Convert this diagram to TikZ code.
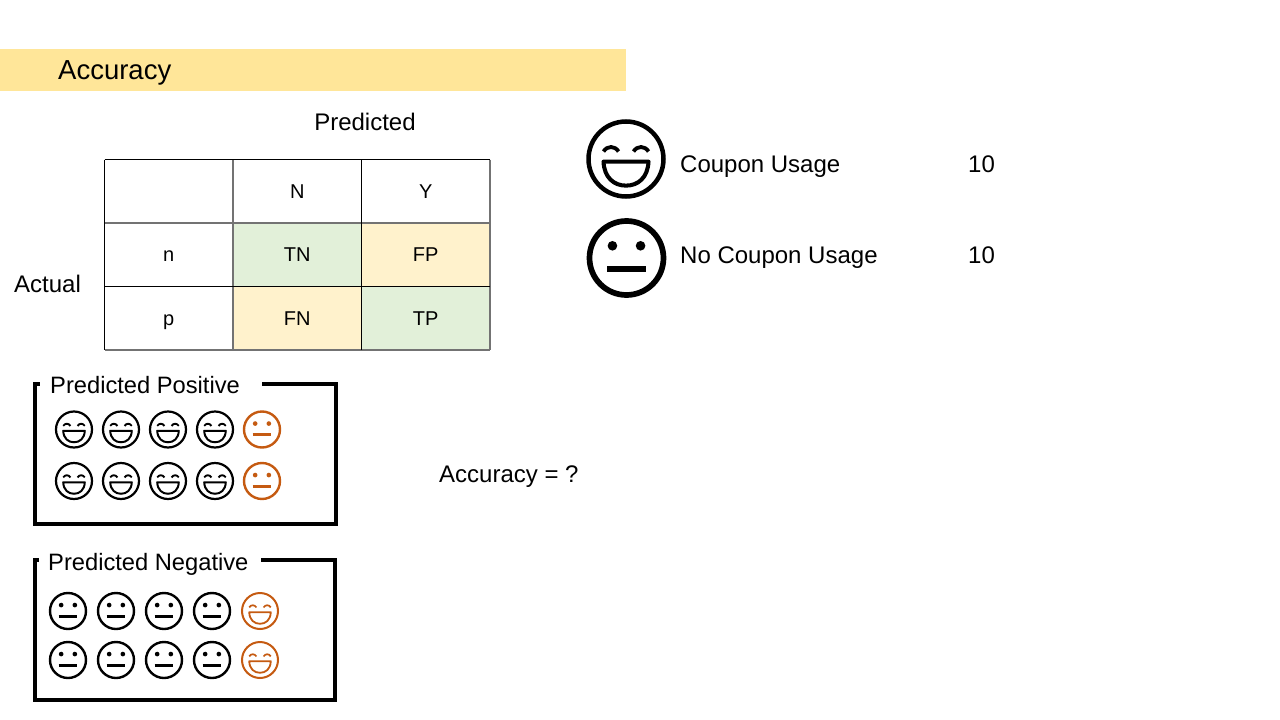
\documentclass[tikz,border=0pt]{standalone}
\usepackage{fontspec}
\setmainfont{Liberation Sans}
\definecolor{bandcol}{HTML}{FFE699}
\definecolor{goodcol}{HTML}{E2F0D9}
\definecolor{badcol}{HTML}{FFF2CC}
\definecolor{wrongcol}{HTML}{C55A11}
\tikzset{
    label24/.style={inner sep=0pt, text height=17pt, text depth=0pt, font=\fontsize{24}{28}\selectfont},
    cell/.style={inner sep=0pt, outer sep=0pt, text height=14.3pt, text depth=0pt,
        minimum width=128.5pt, minimum height=63.5pt, font=\fontsize{20}{24}\selectfont},
    thinrule/.style={draw=black, line width=1pt},
    widerule/.style={draw=black!55, line width=2pt},
    groupbox/.style={draw, line width=4pt},
    pics/happy/.style args={#1/#2/#3}{code={
        \draw[#3, line width=#2pt] (0,0) circle [radius=#1pt];
        \draw[#3, line width=0.9*#2pt, line join=round]
            (-0.6*#1,0.07*#1) -- (0.6*#1,0.07*#1)
            .. controls (0.58*#1,0.5*#1) and (0.32*#1,0.71*#1) .. (0,0.71*#1)
            .. controls (-0.32*#1,0.71*#1) and (-0.58*#1,0.5*#1) .. cycle;
        \draw[#3, line width=0.85*#2pt] (-0.6*#1,-0.2*#1)
            .. controls (-0.5*#1,-0.36*#1) and (-0.3*#1,-0.36*#1) .. (-0.2*#1,-0.2*#1);
        \draw[#3, line width=0.85*#2pt] (0.6*#1,-0.2*#1)
            .. controls (0.5*#1,-0.36*#1) and (0.3*#1,-0.36*#1) .. (0.2*#1,-0.2*#1);
    }},
    pics/neutral/.style args={#1/#2/#3}{code={
        \draw[#3, line width=#2pt] (0,0) circle [radius=#1pt];
        \fill[#3] (-0.38*#1,-0.33*#1) circle [radius=0.13*#1pt];
        \fill[#3] (0.38*#1,-0.33*#1) circle [radius=0.13*#1pt];
        \draw[#3, line width=1.1*#2pt] (-0.52*#1,0.29*#1) -- (0.52*#1,0.29*#1);
    }},
}
\begin{document}
\begin{tikzpicture}[x=1pt, y=-1pt]
    \useasboundingbox (0,0) rectangle (1280,720);

    % Header
    \fill[bandcol] (0,49) rectangle (626,91);
    \node[anchor=west, inner sep=0pt, text height=19.7pt, text depth=0pt, font=\fontsize{27.5}{32}\selectfont] (title) at (58,70) {Accuracy};

    % Table
    \node[label24] (predicted) at (365,122) {Predicted};
    \node[label24, anchor=west] (actual) at (14,284) {Actual};
    \node[cell] (c00) at (168.75,191.25) {};
    \node[cell] (c01) at (297.25,191.25) {N};
    \node[cell] (c02) at (425.75,191.25) {Y};
    \node[cell] (c10) at (168.75,254.75) {n};
    \node[cell, fill=goodcol] (c11) at (297.25,254.75) {TN};
    \node[cell, fill=badcol] (c12) at (425.75,254.75) {FP};
    \node[cell] (c20) at (168.75,318.25) {p};
    \node[cell, fill=badcol] (c21) at (297.25,318.25) {FN};
    \node[cell, fill=goodcol] (c22) at (425.75,318.25) {TP};
    \draw[widerule] (c00.south west) -- (c02.south east);
    \draw[widerule] (c20.south west) -- (c22.south east);
    \draw[widerule] (c01.north west) -- (c21.south west);
    \draw[widerule] (c02.north east) -- (c22.south east);
    \draw[thinrule] (c00.north west) -- (c02.north east);
    \draw[thinrule] (c10.south west) -- (c12.south east);
    \draw[thinrule] (c00.north west) -- (c20.south west);
    \draw[thinrule] (c02.north west) -- (c22.south west);

    % Legend
    \pic (bighappy) at (626,159) {happy={37.5/4.5/black}};
    \pic (bigneutral) at (626.5,258) {neutral={37/5.7/black}};
    \node[label24, anchor=west] (usage) at (680,164) {Coupon Usage};
    \node[label24, anchor=west] (nousage) at (680,255) {No Coupon Usage};
    \node[label24, anchor=west] (usagenum) at (968,164) {10};
    \node[label24, anchor=west] (nousagenum) at (968,255) {10};

    % Predicted positive
    \draw[groupbox] (35,384) rectangle (336,524);
    \node[label24, fill=white, anchor=west, inner xsep=10pt, font=\fontsize{23.7}{28}\selectfont] (pos) at (40,385) {Predicted Positive\kern12pt};
    \foreach \y in {429.5,481} {
        \foreach \x in {74,121,168,215} {
            \pic at (\x,\y) {happy={18/2.2/black}};
        }
        \pic at (262,\y) {neutral={18/2.4/wrongcol}};
    }

    % Predicted negative
    \draw[groupbox] (35,560) rectangle (335,700);
    \node[label24, fill=white, anchor=west, inner xsep=9pt, font=\fontsize{23.7}{28}\selectfont] (neg) at (39,562) {Predicted Negative\kern4pt};
    \foreach \y in {611,660} {
        \foreach \x in {68,116,164,212} {
            \pic at (\x,\y) {neutral={18/2.4/black}};
        }
        \pic at (260,\y) {happy={18/2/wrongcol}};
    }

    \node[label24, anchor=west] (question) at (439,474) {Accuracy = ?};
\end{tikzpicture}
\end{document}
